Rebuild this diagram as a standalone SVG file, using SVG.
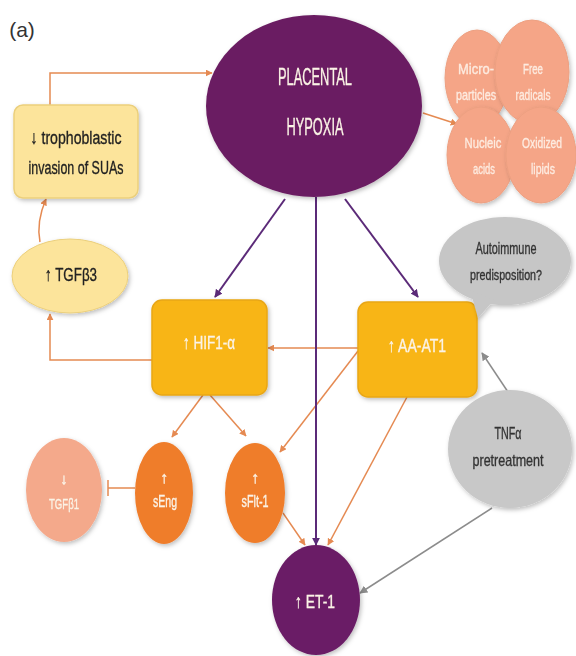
<svg xmlns="http://www.w3.org/2000/svg" width="576" height="656" viewBox="0 0 576 656">
<defs>
<filter id="sh" x="-20%" y="-20%" width="140%" height="140%"><feDropShadow dx="1.5" dy="2" stdDeviation="2" flood-color="#000" flood-opacity="0.25"/></filter>
<marker id="ao" viewBox="0 0 10 10" refX="9" refY="5" markerWidth="7" markerHeight="7" markerUnits="userSpaceOnUse" orient="auto"><path d="M0,0 L10,5 L0,10 z" fill="#e58a52"/></marker>
<marker id="ap" viewBox="0 0 10 10" refX="9" refY="5" markerWidth="8" markerHeight="8" markerUnits="userSpaceOnUse" orient="auto"><path d="M0,0 L10,5 L0,10 z" fill="#5b2a78"/></marker>
<marker id="ag" viewBox="0 0 10 10" refX="9" refY="5" markerWidth="8" markerHeight="8" markerUnits="userSpaceOnUse" orient="auto"><path d="M0,0 L10,5 L0,10 z" fill="#8c8c8c"/></marker>
</defs>
<style>
text{font-family:"Liberation Sans Narrow","Liberation Sans",Arial,sans-serif;text-anchor:middle;stroke-width:0.35}
.o{fill:none;stroke:#e58a52;stroke-width:1.5;marker-end:url(#ao)}
.p{fill:none;stroke:#5b2a78;stroke-width:2;marker-end:url(#ap)}
.g{fill:none;stroke:#8c8c8c;stroke-width:1.5;marker-end:url(#ag)}
.w{fill:#fbf3e6;stroke:#fbf3e6}
.dk{fill:#222;stroke:#222}
.gr{fill:#333;stroke:#333}
.sm{fill:#f5a587;stroke:#eda081;stroke-width:1}
.smt{fill:#fdebe0;stroke:#fdebe0;font-size:15px}
</style>
<rect width="576" height="656" fill="#fff"/>
<text x="22" y="37" style="font-size:21px;fill:#333">(a)</text>

<g id="connectors">
<path class="o" d="M50,105 V73 H212"/>
<path class="o" d="M40,242 Q36,222 46,199"/>
<path class="o" d="M152,360 H50 V314"/>
<path class="o" d="M358,348 H268"/>
<path class="o" d="M203,395 L172,437"/>
<path class="o" d="M210,395 L246,436"/>
<path class="o" d="M358,351 L280,452"/>
<path class="o" d="M407,397 L328,545"/>
<path class="o" d="M283,513 L305,545"/>
<path class="o" d="M423,113 L457,124"/>
<path class="p" d="M285,199 L215,297"/>
<path class="p" d="M345,199 L418,297"/>
<path class="p" d="M316,197 V545"/>
<path class="g" d="M508,392 L482,353"/>
<path class="g" d="M492,508 L360,593"/>
<path d="M135,488 H108 M108,480 V496" fill="none" stroke="#e58a52" stroke-width="1.5"/>
</g>

<g id="placental-hypoxia" filter="url(#sh)">
<ellipse cx="314" cy="106" rx="108" ry="91" fill="#6b1f62"/>
<text x="315" y="85" class="w" style="font-size:23px" textLength="74" lengthAdjust="spacingAndGlyphs">PLACENTAL</text>
<text x="315" y="135" class="w" style="font-size:23px" textLength="57" lengthAdjust="spacingAndGlyphs">HYPOXIA</text>
</g>

<g id="microparticles" filter="url(#sh)">
<ellipse class="sm" cx="477" cy="78" rx="32" ry="48"/>
<text x="476" y="74" class="smt" textLength="36" lengthAdjust="spacingAndGlyphs">Micro-</text>
<text x="476" y="100" class="smt" textLength="40" lengthAdjust="spacingAndGlyphs">particles</text>
</g>
<g id="free-radicals" filter="url(#sh)">
<ellipse class="sm" cx="532" cy="72" rx="37" ry="52"/>
<text x="533" y="74" class="smt" textLength="20" lengthAdjust="spacingAndGlyphs">Free</text>
<text x="533" y="100" class="smt" textLength="35" lengthAdjust="spacingAndGlyphs">radicals</text>
</g>
<g id="nucleic-acids" filter="url(#sh)">
<ellipse class="sm" cx="481" cy="155" rx="34" ry="48"/>
<text x="483" y="148" class="smt" textLength="37" lengthAdjust="spacingAndGlyphs">Nucleic</text>
<text x="484" y="174" class="smt" textLength="22" lengthAdjust="spacingAndGlyphs">acids</text>
</g>
<g id="oxidized-lipids" filter="url(#sh)">
<ellipse class="sm" cx="541" cy="155" rx="35" ry="48"/>
<text x="542" y="148" class="smt" style="font-size:14px" textLength="40" lengthAdjust="spacingAndGlyphs">Oxidized</text>
<text x="543" y="174" class="smt" textLength="24" lengthAdjust="spacingAndGlyphs">lipids</text>
</g>

<g id="trophoblastic" filter="url(#sh)">
<rect x="14" y="105" width="124" height="93" rx="9" fill="#fce49b" stroke="#ebcf7c" stroke-width="1.5"/>
<text x="76" y="144" class="dk" style="font-size:19px" textLength="91" lengthAdjust="spacingAndGlyphs">↓ trophoblastic</text>
<text x="76" y="174" class="dk" style="font-size:19px" textLength="95" lengthAdjust="spacingAndGlyphs">invasion of SUAs</text>
</g>

<g id="tgfb3" filter="url(#sh)">
<ellipse cx="70" cy="276" rx="58" ry="37" fill="#fce49b" stroke="#ebcf7c" stroke-width="1"/>
<text x="71" y="281" class="dk" style="font-size:19px" textLength="52" lengthAdjust="spacingAndGlyphs">↑ TGFβ3</text>
</g>

<g id="hif1a" filter="url(#sh)">
<rect x="152" y="300" width="115" height="95" rx="10" fill="#f8b518" stroke="#e8a613" stroke-width="1.5"/>
<text x="209" y="349" class="w" style="font-size:19px" textLength="52" lengthAdjust="spacingAndGlyphs">↑ HIF1-α</text>
</g>

<g id="aa-at1" filter="url(#sh)">
<rect x="358" y="302" width="119" height="95" rx="10" fill="#f8b518" stroke="#e8a613" stroke-width="1.5"/>
<text x="417" y="352" class="w" style="font-size:19px" textLength="58" lengthAdjust="spacingAndGlyphs">↑ AA-AT1</text>
</g>

<g id="autoimmune" filter="url(#sh)">
<ellipse cx="505" cy="261" rx="66" ry="44" fill="#c6c6c6"/>
<path d="M470,290 L478,318 L494,300 z" fill="#c6c6c6"/>
<text x="506" y="254" class="gr" style="font-size:17px" textLength="61" lengthAdjust="spacingAndGlyphs">Autoimmune</text>
<text x="506" y="280" class="gr" style="font-size:15px" textLength="72" lengthAdjust="spacingAndGlyphs">predisposition?</text>
</g>

<g id="tnfa" filter="url(#sh)">
<ellipse cx="510" cy="449" rx="62" ry="59" fill="#c8c8c8"/>
<text x="508" y="439" class="gr" style="font-size:17px" textLength="27" lengthAdjust="spacingAndGlyphs">TNFα</text>
<text x="508" y="466" class="gr" style="font-size:17px" textLength="71" lengthAdjust="spacingAndGlyphs">pretreatment</text>
</g>

<g id="tgfb1" filter="url(#sh)">
<ellipse cx="64" cy="490" rx="38" ry="52" fill="#f4a98b"/>
<text x="64" y="484" class="w" style="font-size:15px">↓</text>
<text x="64" y="509" class="w" style="font-size:15px" textLength="30" lengthAdjust="spacingAndGlyphs">TGFβ1</text>
</g>

<g id="seng" filter="url(#sh)">
<ellipse cx="164" cy="493" rx="29" ry="51" fill="#ef7d2c"/>
<text x="164" y="483" class="w" style="font-size:16px">↑</text>
<text x="165" y="507" class="w" style="font-size:16px" textLength="24" lengthAdjust="spacingAndGlyphs">sEng</text>
</g>

<g id="sflt1" filter="url(#sh)">
<ellipse cx="255" cy="493" rx="30" ry="50" fill="#ef7d2c"/>
<text x="255" y="483" class="w" style="font-size:16px">↑</text>
<text x="255" y="507" class="w" style="font-size:16px" textLength="27" lengthAdjust="spacingAndGlyphs">sFlt-1</text>
</g>

<g id="et1" filter="url(#sh)">
<ellipse cx="316" cy="600" rx="44" ry="55" fill="#6b1f66"/>
<text x="315" y="608" class="w" style="font-size:19px" textLength="40" lengthAdjust="spacingAndGlyphs">↑ ET-1</text>
</g>
</svg>
